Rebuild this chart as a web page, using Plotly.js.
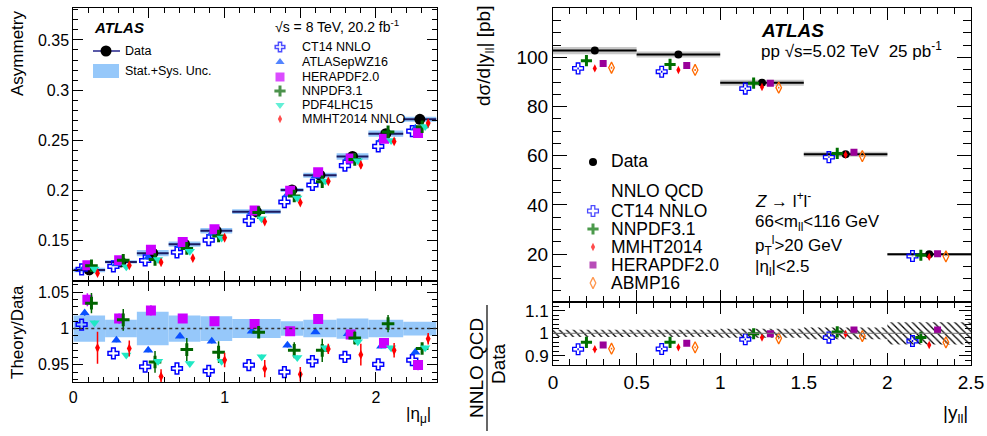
<!DOCTYPE html>
<html><head><meta charset="utf-8">
<script src="https://cdn.plot.ly/plotly-3.0.1.min.js"></script>
<style>html,body{margin:0;padding:0;background:#fff}#c{width:987px;height:436px}</style>
</head><body><div id="c"></div><script>
// ---------- Left panel: muon charge asymmetry vs |eta_mu| ----------
const etaEdges   = [0, 0.21, 0.42, 0.63, 0.84, 1.05, 1.37, 1.52, 1.74, 1.95, 2.18, 2.40];
const asymData   = [0.121, 0.129, 0.1377, 0.1467, 0.160, 0.179, 0.2007, 0.2153, 0.234, 0.2567, 0.271];
const asymRelUnc = [0.018, 0.012, 0.023, 0.018, 0.017, 0.013, 0.010, 0.012, 0.014, 0.012, 0.0095];
const leftNames  = ['CT14 NNLO', 'ATLASepWZ16', 'HERAPDF2.0', 'NNPDF3.1', 'PDF4LHC15', 'MMHT2014 NNLO'];
const ratioCT14    = [1.0055, 0.9658, 0.9475, 0.945, 0.9416, 0.9497, 0.940, 0.955, 0.961, 0.9507, 0.9566];
const ratioATLAS   = [1.0215, 0.984, 0.9703, 0.9895, 0.9826, 0.9963, 0.977, 0.9954, 0.993, 0.9758, 0.9675];
const ratioHERA    = [1.0397, 1.0137, 1.025, 1.0137, 1.010, 1.0064, 0.9963, 1.0133, 0.9918, 0.980, 0.9497];
const ratioNNPDF   = [1.035, 1.012, 0.954, 0.971, 0.9675, 0.995, 0.970, 0.970, 0.987, 1.0068, 0.9726];
const ratioPDF4LHC = [1.008, 0.9635, 0.955, 0.952, 0.955, 0.9612, 0.960, 0.9735, 0.9817, 0.9735, 0.9735];
const ratioMMHT    = [0.9735, 0.9726, 0.934, 0.905, 0.9566, 0.9448, 0.937, 0.972, 0.964, 0.970, 0.986];
const errCT14    = [0, 0, 0, 0, 0, 0, 0, 0, 0, 0, 0];
const errATLAS   = [0.004, 0.003, 0.003, 0.003, 0.003, 0.003, 0.003, 0.003, 0.003, 0.003, 0.003];
const errHERA    = [0.009, 0.007, 0.007, 0.006, 0.006, 0.006, 0.005, 0.006, 0.006, 0.006, 0.007];
const errNNPDF   = [0.014, 0.015, 0.015, 0.016, 0.015, 0.008, 0.011, 0.016, 0.009, 0.012, 0.007];
const errPDF4LHC = [0.003, 0.003, 0.003, 0.003, 0.003, 0.003, 0.003, 0.003, 0.003, 0.003, 0.003];
const errMMHT    = [0.022, 0.011, 0.010, 0.010, 0.010, 0.012, 0.010, 0.007, 0.015, 0.010, 0.008];

// ---------- Right panel: Z cross-section vs |y_ll| ----------
const yllEdges   = [0, 0.5, 1, 1.5, 2, 2.5];
const xsecData   = [102.8, 101.2, 89.7, 60.6, 19.9];
const xsecBand   = [1.5, 1.2, 1.2, 1.0, 0.6];
const ratioBand  = [0.016, 0.016, 0.020, 0.026, 0.049];
const rightNames = ['CT14 NNLO', 'NNPDF3.1', 'MMHT2014', 'HERAPDF2.0', 'ABMP16'];
const rCT14  = [0.9295, 0.931, 0.9736, 0.981, 0.966];
const rNNPDF = [0.960, 0.960, 0.998, 1.006, 0.982];
const rMMHT  = [0.9295, 0.938, 0.981, 0.997, 0.9485];
const rHERA  = [0.9485, 0.956, 0.998, 1.0145, 1.0145];
const rABMP  = [0.932, 0.938, 0.978, 0.988, 0.960];
const eCT14  = [0.004, 0.004, 0.004, 0.004, 0.004];
const eNNPDF = [0.004, 0.004, 0.004, 0.004, 0.004];
const eMMHT  = [0.007, 0.007, 0.007, 0.007, 0.007];
const eHERA  = [0.012, 0.012, 0.012, 0.012, 0.012];
const eABMP  = [0.004, 0.004, 0.004, 0.004, 0.004];

// ---------- styles ----------
const F = 'Liberation Sans, Arial, Helvetica, sans-serif';
const W = 987, H = 436;
const leftStyles = [
  {symbol:'cross-open', color:'#0000ff', size:9, lw:1.5, off:-0.05},
  {symbol:'triangle-up', color:'#0a50ff', size:9, lw:0, off:-0.03},
  {symbol:'square', color:'#cc00ff', size:10, lw:0, off:-0.012},
  {symbol:'cross-thin', color:'#006400', size:9, lw:3, off:0.015},
  {symbol:'triangle-down', color:'#20e8c4', size:9, lw:0, off:0.035},
  {symbol:'diamond-tall', color:'#ff0000', size:7, lw:0, off:0.055}
];
const rightStyles = [
  {symbol:'cross-open', color:'#0000ff', size:9, lw:1.3, off:-0.1},
  {symbol:'cross-thin', color:'#007000', size:8, lw:3, off:-0.05},
  {symbol:'diamond-tall', color:'#ff0000', size:6, lw:0, off:0},
  {symbol:'square', color:'#990099', size:7, lw:0, off:0.05},
  {symbol:'diamond-tall-open', color:'#ff6a00', size:8, lw:1.3, off:0.1}
];
const leftRatios = [ratioCT14, ratioATLAS, ratioHERA, ratioNNPDF, ratioPDF4LHC, ratioMMHT];
const leftErrs   = [errCT14, errATLAS, errHERA, errNNPDF, errPDF4LHC, errMMHT];
const rightRatios = [rCT14, rNNPDF, rMMHT, rHERA, rABMP];
const rightErrs   = [eCT14, eNNPDF, eMMHT, eHERA, eABMP];

const centers = e => e.slice(0,-1).map((v,i)=>(v+e[i+1])/2);
const widths  = e => e.slice(0,-1).map((v,i)=>e[i+1]-v);
const etaC = centers(etaEdges), etaW = widths(etaEdges);
const yC = centers(yllEdges), yW = widths(yllEdges);

const traces = [];
traces.push({type:'bar', xaxis:'x', yaxis:'y', x:etaC, width:etaW,
  base:asymData.map((d,i)=>d-d*asymRelUnc[i]), y:asymData.map((d,i)=>2*d*asymRelUnc[i]),
  marker:{color:'rgb(150,200,250)', line:{width:0}}, hoverinfo:'skip', showlegend:false});
traces.push({type:'bar', xaxis:'x2', yaxis:'y2', x:etaC, width:etaW,
  base:asymRelUnc.map(u=>1-u), y:asymRelUnc.map(u=>2*u),
  marker:{color:'rgb(150,200,250)', line:{width:0}}, hoverinfo:'skip', showlegend:false});
traces.push({type:'scatter', mode:'markers', xaxis:'x', yaxis:'y', x:etaC, y:asymData,
  error_x:{type:'data', array:etaW.map(w=>w/2), thickness:2, width:0, color:'#1a1a60'},
  marker:{symbol:'circle', size:11, color:'#000'}, showlegend:false});
leftStyles.forEach((s,k)=>{
  const xs = etaC.map(c=>c+s.off);
  const mk = {symbol:s.symbol, size:s.size, color:s.color, line:{width:s.lw, color:s.color}};
  traces.push({type:'scatter', mode:'markers', xaxis:'x', yaxis:'y', x:xs,
    y:asymData.map((d,i)=>d*leftRatios[k][i]),
    error_y:{type:'data', array:asymData.map((d,i)=>d*leftErrs[k][i]), thickness:1.5, width:0, color:s.color},
    marker:mk, name:leftNames[k], showlegend:false});
  traces.push({type:'scatter', mode:'markers', xaxis:'x2', yaxis:'y2', x:xs, y:leftRatios[k],
    error_y:{type:'data', array:leftErrs[k], thickness:1.5, width:0, color:s.color},
    marker:mk, name:leftNames[k], showlegend:false});
});
traces.push({type:'bar', xaxis:'x3', yaxis:'y3', x:yC, width:yW,
  base:xsecData.map((d,i)=>d-xsecBand[i]), y:xsecBand.map(b=>2*b),
  marker:{color:'rgb(200,200,200)', line:{width:0}}, hoverinfo:'skip', showlegend:false});
traces.push({type:'bar', xaxis:'x4', yaxis:'y4', x:yC, width:yW,
  base:ratioBand.map(u=>1-u), y:ratioBand.map(u=>2*u),
  marker:{color:'rgba(0,0,0,0)', line:{width:0},
    pattern:{shape:'\\', fgcolor:'#000', bgcolor:'rgba(255,255,255,0)', size:5, solidity:0.25, fillmode:'replace'}},
  hoverinfo:'skip', showlegend:false});
traces.push({type:'scatter', mode:'markers', xaxis:'x3', yaxis:'y3', x:yC, y:xsecData,
  error_x:{type:'data', array:yW.map(w=>w/2), thickness:2, width:0, color:'#000'},
  marker:{symbol:'circle', size:8, color:'#000'}, showlegend:false});
rightStyles.forEach((s,k)=>{
  const xs = yC.map(c=>c+s.off);
  const mk = {symbol:s.symbol, size:s.size, color:s.color, line:{width:s.lw, color:s.color}};
  traces.push({type:'scatter', mode:'markers', xaxis:'x3', yaxis:'y3', x:xs,
    y:xsecData.map((d,i)=>d*rightRatios[k][i]),
    error_y:{type:'data', array:xsecData.map((d,i)=>d*rightErrs[k][i]), thickness:1.5, width:0, color:s.color},
    marker:mk, name:rightNames[k], showlegend:false});
  traces.push({type:'scatter', mode:'markers', xaxis:'x4', yaxis:'y4', x:xs, y:rightRatios[k],
    error_y:{type:'data', array:rightErrs[k], thickness:1.5, width:0, color:s.color},
    marker:mk, name:rightNames[k], showlegend:false});
});

// ---------- legend keys (overlay axis in pixel units) ----------
const legLeftX = 280, legLeftY = [47, 62, 77, 91, 105, 119];
traces.push({type:'scatter', mode:'markers', xaxis:'x5', yaxis:'y5',
  x:leftStyles.map(()=>legLeftX), y:legLeftY,
  marker:{symbol:leftStyles.map(s=>s.symbol), size:leftStyles.map(s=>s.size-1),
    color:leftStyles.map(s=>s.color), line:{width:leftStyles.map(s=>s.lw), color:leftStyles.map(s=>s.color)}},
  showlegend:false, hoverinfo:'skip'});
traces.push({type:'scatter', mode:'lines', xaxis:'x5', yaxis:'y5', x:[93,120], y:[51,51],
  line:{color:'#5a5aa8', width:2}, showlegend:false, hoverinfo:'skip'});
traces.push({type:'scatter', mode:'markers', xaxis:'x5', yaxis:'y5', x:[106], y:[51],
  marker:{symbol:'circle', size:11, color:'#000'}, showlegend:false, hoverinfo:'skip'});
const legRightX = 593, legRightY = [211, 229, 247, 265, 283];
traces.push({type:'scatter', mode:'markers', xaxis:'x5', yaxis:'y5',
  x:rightStyles.map(()=>legRightX), y:legRightY,
  marker:{symbol:rightStyles.map(s=>s.symbol), size:rightStyles.map(s=>s.size),
    color:rightStyles.map(s=>s.color), line:{width:rightStyles.map(s=>s.lw), color:rightStyles.map(s=>s.color)}},
  showlegend:false, hoverinfo:'skip'});
traces.push({type:'scatter', mode:'markers', xaxis:'x5', yaxis:'y5', x:[593], y:[162],
  marker:{symbol:'circle', size:8, color:'#000'}, showlegend:false, hoverinfo:'skip'});

// ---------- axes ----------
const LX = [73.3/W, 436.5/W], RX = [553/W, 971/W];
const yd = (top, bot) => [1-bot/H, 1-top/H];
function ax(o){
  return Object.assign({showline:true, linecolor:'#000', linewidth:1, mirror:'ticks', ticks:'inside',
    tickcolor:'#000', tickwidth:1, zeroline:false, showgrid:false, fixedrange:true,
    tickfont:{family:F, size:16, color:'#000'}}, o);
}
const minor = (d, len) => ({ticks:'inside', ticklen:len, dtick:d, tick0:0, tickcolor:'#000', showgrid:false});

function ann(text, x, y, o){
  return Object.assign({text, xref:'paper', yref:'paper', x:x/W, y:1-y/H, showarrow:false,
    xanchor:'left', yanchor:'middle', font:{family:F, size:13, color:'#000'}}, o||{});
}
const annotations = [
  ann('<b><i>ATLAS</i></b>', 92, 27, {font:{family:F, size:15, color:'#000'}}),
  ann('√s = 8 TeV, 20.2 fb<sup>-1</sup>', 273, 26, {font:{family:F, size:14, color:'#000'}}),
  ann('Data', 123, 51, {font:{family:F, size:12.5, color:'#000'}}),
  ann('Stat.+Sys. Unc.', 123, 71, {font:{family:F, size:12.5, color:'#000'}}),
  ...leftNames.map((n,i)=>ann(n, 300, legLeftY[i], {font:{family:F, size:12.5, color:'#000'}})),
  ann('Asymmetry', 17, 8, {textangle:-90, xanchor:'center', yanchor:'top', font:{family:F, size:17, color:'#000'}}),
  ann('Theory/Data', 17, 332, {textangle:-90, xanchor:'center', yanchor:'middle', font:{family:F, size:17, color:'#000'}}),
  ann('|η<sub>μ</sub>|', 433, 415, {xanchor:'right', font:{family:F, size:17, color:'#000'}}),
  ann('<b><i>ATLAS</i></b>', 759, 31, {font:{family:F, size:19, color:'#000'}}),
  ann('pp √s=5.02 TeV&nbsp;&nbsp;25 pb<sup>-1</sup>', 759, 50, {font:{family:F, size:17, color:'#000'}}),
  ann('Data', 609, 161, {font:{family:F, size:17.5, color:'#000'}}),
  ann('NNLO QCD', 609, 191, {font:{family:F, size:17.5, color:'#000'}}),
  ...rightNames.map((n,i)=>ann(n, 609, legRightY[i], {font:{family:F, size:17.5, color:'#000'}})),
  ann('<i>Z</i> → l<sup>+</sup>l<sup>-</sup>', 753, 200, {font:{family:F, size:17, color:'#000'}}),
  ann('66&lt;m<sub>ll</sub>&lt;116 GeV', 753, 223, {font:{family:F, size:17, color:'#000'}}),
  ann('p<sub>T</sub><sup>l</sup>&gt;20 GeV', 753, 246, {font:{family:F, size:17, color:'#000'}}),
  ann('|η<sub>l</sub>|&lt;2.5', 753, 268, {font:{family:F, size:17, color:'#000'}}),
  ann('dσ/d|y<sub>ll</sub>| [pb]', 485, 4, {textangle:-90, xanchor:'center', yanchor:'top', font:{family:F, size:19, color:'#000'}}),
  ann('NNLO QCD', 476, 368, {textangle:-90, xanchor:'center', yanchor:'middle', font:{family:F, size:19, color:'#000'}}),
  ann('Data', 498, 364, {textangle:-90, xanchor:'center', yanchor:'middle', font:{family:F, size:19, color:'#000'}}),
  ann('|y<sub>ll</sub>|', 970, 414, {xanchor:'right', font:{family:F, size:19, color:'#000'}})
];

const shapes = [
  {type:'line', xref:'x2', yref:'y2', x0:0, x1:2.4, y0:1, y1:1, line:{color:'#333', width:1.5, dash:'dot'}},
  {type:'line', xref:'x4', yref:'y4', x0:0, x1:2.5, y0:1, y1:1, line:{color:'#777', width:1}},
  {type:'rect', xref:'paper', yref:'paper', x0:93/W, x1:119/W, y0:1-78/H, y1:1-64/H, fillcolor:'rgb(150,200,250)', line:{width:0}},
  {type:'line', xref:'paper', yref:'paper', x0:487/W, x1:487/W, y0:1-431/H, y1:1-305/H, line:{color:'#000', width:1.2}}
];

const layout = {
  width:W, height:H, margin:{l:0, r:0, t:0, b:0}, paper_bgcolor:'#fff', plot_bgcolor:'rgba(0,0,0,0)',
  showlegend:false, barmode:'overlay', font:{family:F, color:'#000'},
  xaxis: ax({domain:LX, anchor:'y', range:[0,2.4], tickvals:[0,0.5,1,1.5,2], showticklabels:false,
    ticklen:10, minor:minor(0.1,5)}),
  yaxis: ax({domain:yd(8.3,281), anchor:'x', range:[0.11,0.3815], dtick:0.05, tick0:0, ticklen:10, minor:minor(0.01,5)}),
  xaxis2: ax({domain:LX, anchor:'y2', range:[0,2.4], tickvals:[0,0.5,1,1.5,2], ticktext:['0',' ','1',' ','2'],
    ticklen:10, minor:minor(0.1,5), tickfont:{family:F, size:16, color:'#000'}}),
  yaxis2: ax({domain:yd(281,382.3), anchor:'x2', range:[0.926,1.0655], dtick:0.05, tick0:0, ticklen:10, minor:minor(0.01,5)}),
  xaxis3: ax({domain:RX, anchor:'y3', range:[0,2.5], dtick:0.5, tick0:0, showticklabels:false, ticklen:12, minor:minor(0.1,6)}),
  yaxis3: ax({domain:yd(8.3,302.3), anchor:'x3', range:[0.4,120], dtick:20, tick0:0, ticklen:14, minor:minor(5,8),
    tickfont:{family:F, size:19, color:'#000'}}),
  xaxis4: ax({domain:RX, anchor:'y4', range:[0,2.5], dtick:0.5, tick0:0, ticklen:12, minor:minor(0.1,6),
    tickfont:{family:F, size:19, color:'#000'}}),
  yaxis4: ax({domain:yd(302.3,365), anchor:'x4', range:[0.86,1.137], dtick:0.1, tick0:0, ticklen:12, minor:minor(0.02,6),
    tickfont:{family:F, size:17, color:'#000'}}),
  xaxis5: {domain:[0,1], anchor:'y5', range:[0,W], visible:false, fixedrange:true},
  yaxis5: {domain:[0,1], anchor:'x5', range:[H,0], visible:false, fixedrange:true},
  annotations, shapes
};
Plotly.newPlot('c', traces, layout, {staticPlot:true, displayModeBar:false});
</script></body></html>
